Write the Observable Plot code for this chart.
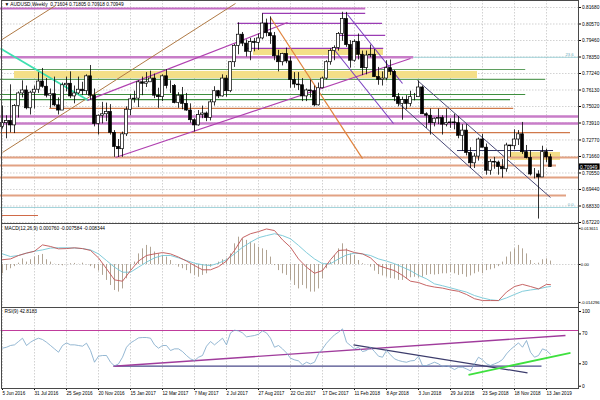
<!DOCTYPE html>
<html><head><meta charset="utf-8">
<script src="https://cdn.jsdelivr.net/npm/d3@7"></script>
<script src="https://cdn.jsdelivr.net/npm/@observablehq/plot@0.6"></script>
<style>html,body{margin:0;padding:0;background:#fff;}#chart{width:600px;height:400px;overflow:hidden;background:#fff}#chart svg{display:block}</style>
</head><body><div id="chart"></div>
<script>
// ---------- data ----------
const dateLabels = ["5 Jun 2016","31 Jul 2016","25 Sep 2016","20 Nov 2016","15 Jan 2017","12 Mar 2017","7 May 2017","2 Jul 2017","27 Aug 2017","22 Oct 2017","17 Dec 2017","11 Feb 2018","8 Apr 2018","3 Jun 2018","29 Jul 2018","23 Sep 2018","18 Nov 2018","13 Jan 2019"];
const priceTicks = [0.81680,0.80570,0.79460,0.78350,0.77240,0.76130,0.75020,0.73910,0.72770,0.71660,0.70550,0.69440,0.68330,0.67220];
const macdTicks = [0.013611, 0, -0.014296];
const rsiTicks = [100, 70, 30, 0];

const opens = [.7365,.7390,.7405,.7375,.7505,.7590,.7610,.7490,.7595,.7615,
.7670,.7635,.7575,.7585,.7510,.7475,.7645,.7655,.7570,.7590,
.7615,.7605,.7705,.7575,.7385,.7440,.7450,.7465,.7325,.7230,
.7215,.7315,.7480,.7550,.7555,.7665,.7655,.7665,.7690,.7575,
.7565,.7705,.7640,.7640,.7525,.7575,.7520,.7475,.7410,.7375,
.7445,.7455,.7425,.7530,.7605,.7570,.7690,.7605,.7800,.7910,
.7985,.7925,.7870,.7935,.7930,.7960,.8060,.7995,.7975,.7840,
.7800,.7855,.7805,.7680,.7650,.7645,.7570,.7610,.7605,.7510,
.7625,.7690,.7800,.7875,.7895,.7990,.8090,.7915,.7810,.7935,
.7850,.7760,.7845,.7850,.7700,.7680,.7690,.7760,.7735,.7565,
.7520,.7545,.7520,.7565,.7565,.7630,.7450,.7440,.7390,.7420,
.7425,.7380,.7390,.7395,.7390,.7305,.7340,.7190,.7120,.7165,
.7280,.7225,.7070,.7130,.7125,.7095,.7080,.7240,.7235,.7280,
.7315,.7195,.7155,.7045,.7045,.7025,.7195,.71604];
const closes = [.7390,.7405,.7375,.7505,.7590,.7610,.7490,.7595,.7615,.7670,
.7635,.7575,.7585,.7510,.7475,.7645,.7655,.7570,.7590,.7615,
.7605,.7705,.7575,.7385,.7440,.7450,.7465,.7325,.7230,.7215,
.7315,.7480,.7550,.7555,.7665,.7655,.7665,.7690,.7575,.7565,
.7705,.7640,.7640,.7525,.7575,.7520,.7475,.7410,.7375,.7445,
.7455,.7425,.7530,.7605,.7570,.7690,.7605,.7800,.7910,.7985,
.7925,.7870,.7935,.7930,.7960,.8060,.7995,.7975,.7840,.7800,
.7855,.7805,.7680,.7650,.7645,.7570,.7610,.7605,.7510,.7625,
.7690,.7800,.7875,.7895,.7990,.8090,.7915,.7810,.7935,.7850,
.7760,.7845,.7850,.7700,.7680,.7690,.7760,.7735,.7565,.7520,
.7545,.7520,.7565,.7565,.7630,.7450,.7440,.7390,.7420,.7425,
.7380,.7390,.7395,.7390,.7305,.7340,.7190,.7120,.7165,.7280,
.7225,.7070,.7130,.7125,.7095,.7080,.7240,.7235,.7280,.7315,
.7195,.7155,.7045,.7045,.7025,.7195,.7160,.70949];
const highs = [.7505,.7440,.7648,.7515,.7600,.7675,.7640,.7605,.7640,.7730,
.7758,.7690,.7620,.7700,.7560,.7660,.7700,.7735,.7640,.7700,
.7665,.7715,.7778,.7620,.7445,.7530,.7525,.7515,.7340,.7280,
.7330,.7500,.7580,.7605,.7675,.7700,.7730,.7740,.7720,.7625,
.7715,.7750,.7675,.7650,.7595,.7630,.7590,.7520,.7420,.7475,
.7505,.7465,.7545,.7635,.7610,.7715,.7710,.7805,.7920,.8065,
.8000,.7950,.7960,.7960,.7990,.8125,.8090,.8105,.8000,.7880,
.7860,.7895,.7835,.7730,.7730,.7690,.7620,.7680,.7640,.7660,
.7700,.7810,.7890,.7910,.8000,.8136,.8135,.7945,.7950,.7990,
.7875,.7875,.7915,.7885,.7765,.7735,.7810,.7815,.7745,.7590,
.7565,.7575,.7605,.7590,.7675,.7640,.7460,.7485,.7425,.7485,
.7440,.7485,.7420,.7450,.7435,.7380,.7380,.7225,.7185,.7290,
.7315,.7250,.7145,.7160,.7135,.7145,.7255,.7240,.7345,.7340,
.7395,.7240,.7205,.7085,.7070,.7235,.7215,.71805];
const lows = [.7350,.7285,.7325,.7320,.7425,.7560,.7480,.7445,.7485,.7590,
.7625,.7560,.7490,.7500,.7445,.7475,.7600,.7555,.7520,.7580,
.7575,.7580,.7545,.7365,.7310,.7385,.7400,.7310,.7160,.7160,
.7160,.7300,.7440,.7525,.7495,.7575,.7630,.7665,.7555,.7490,
.7535,.7620,.7590,.7520,.7490,.7480,.7470,.7390,.7330,.7370,
.7420,.7400,.7405,.7505,.7555,.7565,.7565,.7595,.7765,.7850,
.7905,.7835,.7810,.7870,.7880,.7950,.7970,.7920,.7810,.7735,
.7775,.7790,.7625,.7625,.7610,.7535,.7535,.7560,.7500,.7505,
.7620,.7680,.7780,.7810,.7875,.7940,.7900,.7760,.7800,.7815,
.7710,.7715,.7830,.7700,.7645,.7640,.7675,.7710,.7535,.7500,
.7410,.7480,.7500,.7540,.7565,.7450,.7355,.7310,.7365,.7380,
.7310,.7365,.7355,.7345,.7285,.7200,.7170,.7085,.7085,.7135,
.7225,.7040,.7040,.7080,.7040,.7020,.7060,.7160,.7210,.7240,
.7180,.7150,.7035,.7015,.6745,.7025,.7125,.70918];

const macdHist = [-.0035,-.0023,-.0016,-.0008,.0005,.0021,.0009,.0018,.0028,.0034,
.0038,.0018,.0009,.0001,-.0003,-.0005,-.0001,.0003,.0004,.0001,
.0005,-.0001,-.0008,-.0016,-.0025,-.0041,-.0060,-.0079,-.0098,-.0104,
-.0092,-.0054,-.0023,.0009,.0040,.0059,.0072,.0065,.0047,.0040,
.0034,.0028,.0015,0,-.0010,-.0016,-.0023,-.0035,-.0041,-.0048,
-.0041,-.0035,-.0010,0,.0009,.0018,.0021,.0040,.0078,.0103,
.0097,.0091,.0084,.0078,.0065,.0059,.0053,.0028,-.0004,-.0023,
-.0035,-.0041,-.0060,-.0079,-.0092,-.0079,-.0092,-.0104,-.0104,-.0092,
-.0054,-.0016,.0009,.0034,.0059,.0078,.0059,.0040,.0034,.0015,
.0003,0,-.0010,-.0025,-.0038,-.0043,-.0048,-.0053,-.0055,-.0060,
-.0060,-.0055,-.0050,-.0048,-.0050,-.0048,-.0041,-.0038,-.0040,-.0038,
-.0035,-.0035,-.0030,-.0035,-.0041,-.0038,-.0048,-.0043,-.0035,-.0029,
-.0035,-.0023,-.0020,-.0016,-.0008,.0009,.0028,.0047,.0059,.0072,
.0059,.0040,.0015,.0003,.0005,.0018,.0021,.0013];
// MACD lines, read every second week (weeks 0,2,...,136) plus the last week 137
const macdMain = [.0018,.0021,.0034,.0043,.0050,.0074,.0068,.0059,.0060,.0063,
.0060,.0053,.0025,-.0016,-.0058,-.0063,-.0023,.0013,.0034,.0040,
.0045,.0040,.0028,.0013,-.0004,-.0020,-.0020,-.0008,.0013,.0053,
.0101,.0116,.0124,.0134,.0128,.0093,.0065,.0021,-.0010,-.0033,
-.0023,.0018,.0053,.0055,.0045,.0040,.0025,-.0004,-.0014,-.0023,
-.0041,-.0063,-.0068,-.0079,-.0085,-.0089,-.0096,-.0101,-.0113,-.0129,
-.0136,-.0136,-.0136,-.0104,-.0083,-.0075,-.0083,-.0092,-.0075,-.0076];
const macdSignal = [.0040,.0030,.0034,.0043,.0050,.0055,.0062,.0063,.0063,.0062,
.0060,.0055,.0040,.0015,-.0010,-.0029,-.0029,-.0010,.0009,.0025,
.0034,.0034,.0025,.0015,.0005,-.0001,-.0004,.0005,.0018,.0040,
.0065,.0084,.0101,.0109,.0116,.0109,.0097,.0072,.0045,.0021,
.0003,.0003,.0021,.0036,.0043,.0040,.0034,.0021,.0013,.0003,
-.0010,-.0023,-.0041,-.0054,-.0073,-.0080,-.0088,-.0096,-.0104,-.0117,
-.0126,-.0133,-.0136,-.0126,-.0113,-.0101,-.0096,-.0092,-.0085,-.0083];
const rsi = [50.9,52.2,54.5,55.4,59.8,64.3,54.5,58.9,62.1,64.3,
62.5,58.9,54.5,50,45.5,54.5,58,55.4,55.4,54.5,
53.6,57.6,47.8,32.1,40.2,41.1,41.1,32.1,27.2,29.9,
38.8,52.2,58,61.2,64.7,65.2,65.2,64.3,55.4,50.9,
54.5,54.5,47.8,50,50,46.4,41.1,36.6,34.4,38.8,
41.1,53.6,59.8,55.4,59.8,64.3,55.4,71.4,75,74.1,
71.4,66.1,67,67.9,69.6,74.1,71.4,64.3,52.2,54.5,
50,44.6,37.5,35.3,33.9,28.6,32.1,29.9,32.1,43.3,
50,57.6,63.4,68.8,72.3,76.8,58.9,54.5,50,52.2,
46.4,47.8,52.2,46.4,40.2,38.8,47.8,42,36.6,34.4,
33,32.1,33.9,34.4,40.2,27.7,27.7,29.9,32.1,29.9,
26.3,27.7,25.4,22.3,25.4,25.4,23.2,20.5,29.9,38.8,
35.3,29.9,27.7,29.9,32.1,35.7,43.3,49.1,53.6,58,
52.2,61.2,45.5,38.8,41.1,50,47.8,42.8];

// drawn objects (week index, price)
const hLines = [
 {p:0.8161,a:-0.5,b:90.8,c:"#c46cc4",w:2},
 {p:0.8128,a:65,b:90.8,c:"#9a3cb4",w:1.2},
 {p:0.8061,a:58.8,b:95,c:"#9a3cb4",w:1.2},
 {p:0.7980,a:84,b:95.8,c:"#9a3cb4",w:1.2},
 {p:0.7893,a:60.8,b:95.3,c:"#9a3cb4",w:1.2},
 {p:0.7833,a:-0.5,b:102.8,c:"#c87dc8",w:2.4},
 {p:0.7833,a:102.8,b:144,c:"#8cc8d0",w:0.8},
 {p:0.7751,a:-0.5,b:130.8,c:"#5f9f5f",w:1.2},
 {p:0.7684,a:-0.5,b:135.8,c:"#5f9f5f",w:1.2},
 {p:0.7583,a:-0.5,b:130.8,c:"#3f8f3f",w:1.2},
 {p:0.7549,a:-0.5,b:127,c:"#3f8f3f",w:1.2},
 {p:0.7489,a:11.8,b:127.8,c:"#cf7a4a",w:1.2},
 {p:0.7435,a:-0.5,b:144,c:"#c87dc8",w:2.4},
 {p:0.7388,a:-0.5,b:144,c:"#c87dc8",w:2.4},
 {p:0.7327,a:-0.5,b:142,c:"#d0784a",w:1.2},
 {p:0.7206,a:113.75,b:137.75,c:"#303060",w:1},
 {p:0.7159,a:-0.5,b:144,c:"#e2a283",w:2},
 {p:0.7105,a:-0.5,b:138.5,c:"#e2a283",w:2},
 {p:0.7025,a:-0.5,b:144,c:"#e2a283",w:2},
 {p:0.6904,a:-0.5,b:141,c:"#e2a283",w:2},
 {p:0.6823,a:-0.5,b:144,c:"#8cc8d0",w:0.8},
 {p:0.6769,a:0,b:9,c:"#d06a48",w:1}
];
const bands = [
 {a:3,b:118.75,p1:0.7738,p2:0.7690},
 {a:62.75,b:95.25,p1:0.7892,p2:0.7845},
 {a:127,b:139.5,p1:0.7193,p2:0.7139}
];
const trendLines = [
 {x1:-0.5,y1:0.7946,x2:13.25,y2:0.8181,c:"#b07a45",w:1},
 {x1:0,y1:0.7193,x2:58.25,y2:0.8195,c:"#b07a45",w:1},
 {x1:-0.5,y1:0.7892,x2:21.5,y2:0.7543,c:"#3ee0b0",w:1.8},
 {x1:21.25,y1:0.7543,x2:71.25,y2:0.8067,c:"#b040b0",w:1.2},
 {x1:28.25,y1:0.7159,x2:102,y2:0.7825,c:"#b040b0",w:1.2},
 {x1:67,y1:0.8101,x2:90,y2:0.7152,c:"#e0823c",w:1.2},
 {x1:86.25,y1:0.8121,x2:100,y2:0.7657,c:"#7a40c0",w:1.1},
 {x1:82.5,y1:0.7899,x2:97.75,y2:0.7388,c:"#7a40c0",w:1.1},
 {x1:103.75,y1:0.7677,x2:137,y2:0.6890,c:"#4a4a78",w:1},
 {x1:98.25,y1:0.7543,x2:120,y2:0.7018,c:"#4a4a78",w:1}
];
const fibLabels = [{p:0.7833,t:"23.6"},{p:0.6823,t:"0.0"}];
const rsiLines = [
 {x1:-0.5,y1:74.6,x2:144,y2:74.6,c:"#c03c9c",w:1.2},
 {x1:27.75,y1:26.8,x2:134.75,y2:26.8,c:"#4a4a8a",w:1.2},
 {x1:27.75,y1:26.8,x2:140.75,y2:67.9,c:"#a03c9c",w:1.4},
 {x1:87.75,y1:55.4,x2:131.25,y2:17.9,c:"#3c3c6c",w:1.2},
 {x1:116.5,y1:15.3,x2:142,y2:44.7,c:"#3ee03e",w:1.8}
];
const headerText = "\u25BC AUDUSD,Weekly  0.71604 0.71805 0.70918 0.70949";
const macdText = "MACD(12,26,9) 0.000760 -0.007584 -0.008344";
const rsiText = "RSI(9) 42.8183";

// ---------- build ----------
const FONT = "Liberation Sans, Arial, sans-serif";
const FS = 4.8;
const xDomain = [-0.25, 144];
const weeks = d3.range(closes.length);
const candles = weeks.map(i => ({i, o: opens[i], h: highs[i], l: lows[i], c: closes[i]}));
const tickIdx = dateLabels.map((_, k) => k * 8);
const lineWeeks = d3.range(0, 137, 2).concat([137]);
const macdLine = lineWeeks.map((w, k) => ({i: w, m: macdMain[k], s: macdSignal[k]}));
const histData = weeks.map(i => ({i, v: macdHist[i]}));
const rsiData = weeks.map(i => ({i, v: rsi[i]}));
const last = candles[candles.length - 1];
const gridStyle = {stroke: "#b4b4b4", strokeOpacity: 1, strokeWidth: 0.6, strokeDasharray: "1.5,1.5"};
const common = {width: 600, marginLeft: 1, marginRight: 22, marginTop: 0,
  color: {type: "identity"}, x: {domain: xDomain, axis: null},
  style: {fontFamily: FONT, background: "white", overflow: "visible", color: "#000"}};

const p1 = Plot.plot({...common, height: 223, marginBottom: 0,
  y: {domain: [0.67152, 0.82151], axis: null},
  marks: [
    Plot.gridX(tickIdx, gridStyle),
    Plot.gridY(priceTicks, gridStyle),
    Plot.rect(bands, {x1: "a", x2: "b", y1: "p1", y2: "p2", fill: "#f4df88"}),
    Plot.ruleY(hLines, {y: "p", x1: "a", x2: "b", stroke: "c", strokeWidth: "w"}),
    Plot.link(trendLines, {x1: "x1", y1: "y1", x2: "x2", y2: "y2", stroke: "c", strokeWidth: "w"}),
    Plot.ruleX(candles, {x: "i", y1: "l", y2: "h", stroke: "black", strokeWidth: 0.8}),
    Plot.rect(candles, {x1: d => d.i - 0.36, x2: d => d.i + 0.36, y1: "o", y2: "c",
      fill: d => d.c >= d.o ? "white" : "black", stroke: "black", strokeWidth: 0.7}),
    Plot.text(fibLabels, {x: () => 142.8, y: "p", text: "t", dy: -2.6, textAnchor: "end", fill: "#6aaab8", fontSize: 4.2}),
    Plot.axisY({anchor: "right", ticks: priceTicks, tickFormat: d => d.toFixed(5), tickSize: 2, tickPadding: 1.5, fontSize: FS}),
    Plot.rect([last], {x1: () => 144, x2: () => 149.4, y1: d => d.c - 0.0021, y2: d => d.c + 0.0021, fill: "black"}),
    Plot.text([last], {x: () => 144.4, y: "c", text: d => d.c.toFixed(5), fill: "white", textAnchor: "start", fontSize: FS}),
    Plot.text([headerText], {frameAnchor: "top-left", dx: 3, dy: 2.2, text: d => d, lineAnchor: "top", textAnchor: "start", fontSize: FS}),
    Plot.frame({stroke: "#4a4a4a"})
  ]});

const p2 = Plot.plot({...common, height: 84, marginBottom: 0,
  y: {domain: [-0.01621, 0.01546], axis: null},
  marks: [
    Plot.gridX(tickIdx, gridStyle),
    Plot.ruleY([0], gridStyle),
    Plot.ruleX(histData, {x: "i", y1: () => 0, y2: "v", stroke: "#a89a88", strokeWidth: 0.9}),
    Plot.line(macdLine, {x: "i", y: "s", stroke: "#74c6d6", strokeWidth: 0.9}),
    Plot.line(macdLine, {x: "i", y: "m", stroke: "#c05454", strokeWidth: 0.9}),
    Plot.axisY({anchor: "right", ticks: macdTicks, tickFormat: d => d === 0 ? "0.00" : d.toFixed(6), tickSize: 1.5, tickPadding: 0.8, fontSize: 4.2}),
    Plot.text([macdText], {frameAnchor: "top-left", dx: 3, dy: 3.5, text: d => d, lineAnchor: "top", textAnchor: "start", fontSize: FS}),
    Plot.frame({stroke: "#4a4a4a"})
  ]});

const p3 = Plot.plot({...common, height: 93, marginBottom: 12,
  y: {domain: [-3.08, 105.4], axis: null},
  marks: [
    Plot.gridX(tickIdx, gridStyle),
    Plot.link(rsiLines, {x1: "x1", y1: "y1", x2: "x2", y2: "y2", stroke: "c", strokeWidth: "w"}),
    Plot.line(rsiData, {x: "i", y: "v", stroke: "#7aa6c8", strokeWidth: 0.8}),
    Plot.axisY({anchor: "right", ticks: rsiTicks, tickFormat: d => String(d), tickSize: 2, tickPadding: 1.5, fontSize: FS}),
    Plot.axisX({anchor: "bottom", ticks: tickIdx, tickFormat: d => dateLabels[d / 8], textAnchor: "start", tickSize: 2, tickPadding: 1, fontSize: 4.6}),
    Plot.text([rsiText], {frameAnchor: "top-left", dx: 3, dy: 2.5, text: d => d, lineAnchor: "top", textAnchor: "start", fontSize: FS}),
    Plot.frame({stroke: "#4a4a4a"})
  ]});

const root = document.getElementById("chart");
root.append(p1, p2, p3);
</script>
</body></html>
